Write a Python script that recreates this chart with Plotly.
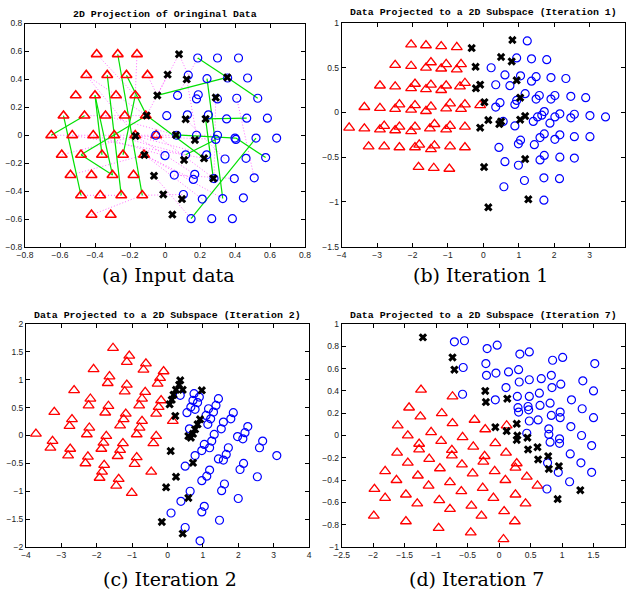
import plotly.graph_objects as go

# ---------------- (a) Input data ----------------
a_tri_x = [-0.39, -0.27, -0.16,
           -0.45, -0.33, -0.22, -0.10,
           -0.51, -0.40, -0.28, -0.17,
           -0.58, -0.46, -0.34, -0.23, -0.11,
           -0.65, -0.53, -0.41, -0.29, -0.17, -0.05,
           -0.59, -0.48, -0.36, -0.24, -0.12,
           -0.54, -0.42, -0.30, -0.18,
           -0.48, -0.37, -0.25, -0.13,
           -0.42, -0.31]
a_tri_y = [0.58, 0.58, 0.58,
           0.43, 0.43, 0.43, 0.43,
           0.285, 0.285, 0.285, 0.285,
           0.14, 0.14, 0.14, 0.14, 0.14,
           0.0, 0.0, 0.0, 0.0, 0.0, 0.0,
           -0.14, -0.14, -0.14, -0.14, -0.14,
           -0.285, -0.285, -0.285, -0.285,
           -0.43, -0.43, -0.43, -0.43,
           -0.57, -0.57]
a_circ_x = [0.187, 0.30, 0.42,
            0.133, 0.24, 0.358, 0.472,
            0.072, 0.18, 0.19, 0.30, 0.41, 0.53,
            0.01, 0.128, 0.248, 0.352, 0.467, 0.585,
            -0.053, 0.067, 0.18, 0.30, 0.29, 0.40, 0.405, 0.52, 0.638,
            0.0, 0.118, 0.238, 0.343, 0.463, 0.575,
            0.053, 0.17, 0.162, 0.28, 0.396, 0.51,
            0.105, 0.213, 0.33, 0.448,
            0.149, 0.267, 0.385]
a_circ_y = [0.553, 0.553, 0.553,
            0.43, 0.405, 0.41, 0.41,
            0.285, 0.26, 0.29, 0.26, 0.265, 0.265,
            0.14, 0.146, 0.146, 0.117, 0.122, 0.122,
            0.0, 0.0, 0.0, 0.0, -0.03, -0.02, -0.03, -0.02, -0.02,
            -0.146, -0.14, -0.14, -0.17, -0.165, -0.16,
            -0.285, -0.28, -0.316, -0.31, -0.31, -0.305,
            -0.424, -0.457, -0.453, -0.448,
            -0.597, -0.597, -0.597]
a_x_x = [0.08, 0.015, 0.124, 0.356, -0.044, 0.29, -0.105, 0.118, 0.232, -0.168,
         0.063, 0.171, -0.118, 0.109, 0.223, -0.063, 0.276, -0.01, 0.097, 0.042]
a_x_y = [0.58, 0.434, 0.40, 0.414, 0.285, 0.27, 0.141, 0.115, 0.117, -0.005,
         0.002, -0.034, -0.141, -0.177, -0.165, -0.29, -0.309, -0.424, -0.457, -0.568]

# solid green links (start / end)
a_green_x0 = [-0.65, -0.58, -0.40, -0.40, -0.33, -0.27, -0.22, -0.17, -0.48, -0.48, -0.105,
              -0.044, 0.187, 0.356, 0.24, 0.232, 0.232, 0.063, 0.405, 0.52, 0.118]
a_green_y0 = [0.0, 0.14, 0.285, 0.285, 0.43, 0.58, 0.43, 0.285, -0.14, -0.14, 0.141,
              0.285, 0.553, 0.414, 0.405, 0.117, 0.117, 0.002, -0.02, -0.02, -0.14]
a_green_x1 = [-0.46, -0.48, -0.36, -0.30, -0.25, -0.13, -0.105, -0.24, -0.105, -0.30, 0.223,
              0.356, 0.356, 0.53, 0.33, 0.276, 0.467, 0.405, 0.575, 0.149, 0.29]
a_green_y1 = [0.14, -0.43, -0.14, -0.285, -0.43, -0.43, 0.141, -0.14, 0.141, -0.285, -0.165,
              0.414, 0.414, 0.265, -0.453, -0.309, 0.122, -0.02, -0.16, -0.597, -0.03]

# dotted magenta links (start / end)
a_dot_x0 = [-0.65, -0.17, -0.168, -0.168, -0.168, -0.118, -0.118, -0.118, -0.29, -0.41,
            -0.45, -0.45, -0.39, -0.16, -0.10, 0.08, 0.08, 0.015, 0.187, 0.124,
            0.41, 0.29, -0.42, -0.48, -0.13, -0.063, -0.54, -0.59, -0.46, -0.34,
            0.118, 0.053, -0.53, -0.05]
a_dot_y0 = [0.0, 0.0, -0.005, -0.005, -0.005, -0.141, -0.141, -0.141, 0.0, 0.0,
            0.43, 0.43, 0.58, 0.58, 0.43, 0.58, 0.58, 0.434, 0.553, 0.40,
            0.265, 0.27, -0.57, -0.43, -0.43, -0.29, -0.285, -0.14, 0.14, 0.14,
            0.115, -0.285, 0.0, 0.0]
a_dot_x1 = [-0.17, 0.30, 0.29, 0.238, 0.17, 0.162, 0.213, 0.33, 0.118, 0.0,
            -0.105, -0.168, -0.17, -0.17, -0.044, -0.044, 0.133, -0.105, 0.072, 0.18,
            0.51, 0.28, -0.13, -0.25, 0.105, 0.149, -0.118, -0.168, -0.105, 0.063,
            0.343, 0.396, 0.223, 0.28]
a_dot_y1 = [0.0, 0.0, -0.03, -0.14, -0.28, -0.316, -0.457, -0.453, -0.14, -0.146,
            0.141, -0.005, 0.285, 0.285, 0.285, 0.285, 0.43, 0.141, 0.285, 0.0,
            -0.305, -0.31, -0.43, -0.43, -0.424, -0.597, -0.141, -0.005, 0.141, 0.002,
            -0.17, -0.31, -0.165, -0.31]

# ---------------- (b) Iteration 1 ----------------
b_tri_x = [-2.04, -1.62, -1.19, -0.75,
           -2.49, -2.04, -1.62, -1.48, -1.19, -1.05, -0.75, -0.63,
           -2.92, -2.49, -2.04, -1.93, -1.62, -1.48, -1.19, -1.05, -0.66, -0.52,
           -3.36, -2.92, -2.49, -2.37, -2.04, -1.93, -1.62, -1.48, -1.05, -0.94, -0.63, -0.52, -0.09,
           -3.79, -3.36, -2.92, -2.80, -2.49, -2.37, -2.04, -1.93, -1.51, -1.38, -1.05, -0.94, -0.52,
           -3.24, -2.80, -2.37, -1.93, -1.81, -1.48, -1.38, -0.94, -0.52,
           -1.83, -1.40, -0.96]
b_tri_y = [0.76, 0.75, 0.74, 0.73,
           0.53, 0.52, 0.50, 0.56, 0.49, 0.54, 0.48, 0.54,
           0.30, 0.29, 0.27, 0.32, 0.26, 0.31, 0.25, 0.30, 0.29, 0.33,
           0.06, 0.05, 0.04, 0.09, 0.03, 0.08, 0.015, 0.065, 0.045, 0.10, 0.04, 0.09, 0.08,
           -0.17, -0.18, -0.19, -0.15, -0.20, -0.16, -0.21, -0.16, -0.18, -0.13, -0.19, -0.15, -0.16,
           -0.38, -0.38, -0.39, -0.39, -0.36, -0.41, -0.37, -0.38, -0.39,
           -0.61, -0.62, -0.63]
b_circ_x = [1.24, 0.94, 1.36, 1.79, 0.22, 0.61, 1.05, 1.49, 1.36, 1.91, 2.33, 0.35, 0.75,
            1.18, 1.58, 1.49, 2.02, 1.91, 2.47, 2.89, 0.47, 0.35, 0.89, 0.94, 0.56, 0.89,
            1.41, 1.53, 1.65, 1.72, 1.88, 2.02, 2.16, 2.47, 2.57, 3.01, 3.45, 0.44, 0.99,
            1.05, 1.44, 1.60, 1.72, 2.02, 2.16, 2.57, 3.01, 0.61, 0.99, 1.60, 1.72, 2.16,
            2.57, 0.58, 1.16, 1.71, 2.15, 1.71]
b_circ_y = [0.80, 0.61, 0.60, 0.59, 0.50, 0.42, 0.41, 0.40, 0.35, 0.39, 0.38, 0.31, 0.30,
            0.21, 0.19, 0.15, 0.19, 0.15, 0.18, 0.165, 0.11, 0.06, 0.09, 0.135, -0.10, -0.15,
            -0.10, -0.05, -0.03, 0.01, -0.12, -0.05, -0.015, -0.06, -0.02, -0.035, -0.05, -0.39, -0.35,
            -0.31, -0.36, -0.28, -0.24, -0.30, -0.25, -0.27, -0.27, -0.55, -0.59, -0.53, -0.48, -0.50,
            -0.51, -0.83, -0.76, -0.73, -0.74, -0.98]
b_x_x = [0.82, -0.33, 0.50, 0.80, -0.22, 0.94, -0.09, -0.21, 1.04, 0.03,
         0.14, 1.18, 1.04, 0.45, 0.50, -0.09, 1.18, 0.02, 1.27, 0.14]
b_x_y = [0.81, 0.72, 0.62, 0.57, 0.51, 0.36, 0.31, 0.27, 0.165, 0.115,
         -0.085, -0.04, -0.08, -0.13, -0.10, -0.17, -0.52, -0.61, -0.97, -1.06]

# ---------------- (c) Iteration 2 ----------------
c_tri_x = [-1.54, -1.08, -1.15, -0.61, -0.68, -2.09, -0.11, -0.21, -0.28, -1.64,
           -1.69, -1.15, -1.21, -2.64, -0.63, -0.72, -0.80, -2.18, -2.23, -1.67,
           -1.76, -3.20, -1.18, -1.24, -1.34, -0.18, -0.25, -0.32, -0.72, -0.79,
           -0.87, -2.70, -2.77, -2.21, -2.28, -1.73, -1.81, -1.87, -3.72, -3.25,
           -3.31, -2.75, -2.81, -1.26, -1.34, -1.41, -0.32, -0.40, -0.87, -0.93,
           -2.25, -2.32, -1.79, -1.85, -1.92, -1.38, -1.45, -1.01, -0.46, 0.15]
c_tri_y = [1.57, 1.43, 1.32, 1.29, 1.18, 1.19, 1.15, 1.03, 0.93, 1.06,
           0.94, 0.91, 0.79, 0.81, 0.78, 0.66, 0.54, 0.66, 0.54, 0.53,
           0.41, 0.42, 0.39, 0.29, 0.18, 0.63, 0.51, 0.39, 0.26, 0.14,
           0.02, 0.29, 0.17, 0.14, 0.02, -0.01, -0.13, -0.24, 0.03, -0.10,
           -0.22, -0.24, -0.36, -0.14, -0.26, -0.37, -0.01, -0.14, -0.39, -0.51,
           -0.38, -0.50, -0.53, -0.65, -0.76, -0.78, -0.90, -1.03, -0.65, 0.26]
c_circ_x = [0.75, 0.72, 0.66, 0.55, 0.90, 0.85, 0.78, 0.62, 0.36, 1.44,
            1.37, 1.30, 1.22, 1.16, 1.09, 1.14, 1.86, 1.79, 1.58, 1.52,
            1.32, 1.25, 1.19, 1.04, 0.97, 0.78, 0.50, 2.27, 2.19, 2.13,
            1.98, 1.72, 1.66, 1.58, 1.44, 2.69, 2.60, 3.09, 2.15, 2.05,
            1.19, 1.11, 0.97, 1.61, 1.53, 2.54, 0.64, 0.38, 1.04, 0.97,
            2.00, 0.10, 1.47, 0.50, 0.92]
c_circ_y = [0.75, 0.63, 0.51, 0.41, 0.69, 0.59, 0.47, 0.12, 0.72, 0.66,
            0.54, 0.42, 0.30, 0.48, 0.36, 0.20, 0.41, 0.30, 0.24, 0.12,
            0.02, -0.10, -0.22, -0.16, -0.27, -0.36, -0.55, 0.16, 0.05, -0.06,
            -0.02, -0.22, -0.34, -0.44, -0.42, -0.10, -0.22, -0.36, -0.50, -0.61,
            -0.62, -0.73, -0.81, -0.87, -0.99, -0.74, -1.00, -1.18, -1.27, -1.37,
            -1.13, -1.39, -1.52, -1.65, -1.89]
c_x_x = [0.36, 0.33, 0.24, 0.17, 0.12, 0.06, 0.43, 0.97, 0.22, 0.92, 0.85,
         0.78, 0.59, 0.66, 0.72, 0.09, 0.72, 0.24, -0.04, 0.59, -0.16, 0.43]
c_x_y = [0.99, 0.91, 0.82, 0.73, 0.64, 0.56, 0.82, 0.81, 0.35, 0.29, 0.20,
         0.11, -0.01, -0.04, 0.03, -0.28, -0.49, -0.74, -0.93, -1.12, -1.55, -1.76]

# ---------------- (d) Iteration 7 ----------------
d_tri_x = [-1.24, -0.74, -1.43, -0.91, -1.25, -0.39, -1.61, -0.74, -1.08, -1.45,
           -0.58, -0.92, -1.27, -1.27, -0.41, -0.75, -0.75, -1.62, -1.11, -1.45,
           -0.59, -0.94, -1.81, -1.29, -0.42, -1.63, -0.78, -1.12, -0.60, -1.98,
           -1.48, -0.95, -1.81, -1.30, -0.44, -0.78, -1.99, -1.48, -0.96, -0.45,
           0.12, -0.22, -0.06, -0.23, -0.25, 0.11, 0.28, 0.26, -0.07, 0.10,
           0.44, 0.61, -0.26, 0.26, -0.09, 0.42, -0.28, 0.08, 0.25, 0.07]
d_tri_y = [0.41, 0.35, 0.25, 0.20, 0.17, 0.14, 0.09, 0.11, 0.03, 0.00,
           -0.015, -0.05, -0.075, -0.125, -0.10, -0.13, -0.18, -0.155, -0.21, -0.245,
           -0.26, -0.295, -0.32, -0.36, -0.34, -0.40, -0.42, -0.45, -0.50, -0.48,
           -0.53, -0.58, -0.56, -0.61, -0.63, -0.66, -0.72, -0.77, -0.83, -0.87,
           0.09, 0.055, -0.07, -0.185, -0.235, -0.155, -0.25, -0.29, -0.32, -0.40,
           -0.37, -0.45, -0.47, -0.53, -0.56, -0.61, -0.72, -0.68, -0.77, -0.93]
d_circ_x = [-0.71, -0.55, -0.19, -0.03, -0.57, -0.21, -0.20, -0.05, 0.15, 0.31,
            0.33, 0.48, 0.32, 0.48, 0.67, 0.83, 0.85, 1.01, 1.52, -0.58,
            0.11, -0.06, 0.29, 0.48, 0.64, 0.84, 0.98, 1.33, 1.50, 0.30,
            0.31, 0.46, 0.47, 0.65, 0.81, 0.83, 0.97, 0.97, 1.15, 1.32,
            1.50, 0.48, 0.62, 0.79, 0.79, 0.81, 0.96, 0.96, 1.14, 1.31,
            1.47, 0.44, 1.13, 1.30, 1.47, 0.94, 0.77, 1.12, 0.76]
d_circ_y = [0.84, 0.85, 0.78, 0.81, 0.61, 0.645, 0.54, 0.56, 0.57, 0.59,
            0.73, 0.75, 0.48, 0.50, 0.51, 0.54, 0.675, 0.70, 0.645, 0.37,
            0.43, 0.32, 0.35, 0.35, 0.38, 0.43, 0.46, 0.49, 0.40, 0.25,
            0.21, 0.26, 0.23, 0.27, 0.29, 0.18, 0.21, 0.16, 0.32, 0.24,
            0.16, 0.13, 0.14, 0.06, 0.01, -0.06, -0.03, -0.07, 0.08, 0.00,
            -0.09, 0.02, -0.165, -0.245, -0.33, -0.33, -0.245, -0.415, -0.48]
d_x_x = [-1.21, -0.74, -0.71, -0.22, -0.21, 0.13, -0.06, 0.12, 0.28, 0.29,
         0.28, 0.45, 0.46, 0.61, 0.62, 0.78, 0.79, 0.95, 1.29, 0.93]
d_x_y = [0.88, 0.70, 0.59, 0.40, 0.30, 0.33, 0.075, 0.04, 0.105, 0.00,
         -0.04, -0.02, -0.125, -0.105, -0.215, -0.185, -0.30, -0.275, -0.49, -0.57]

# ---------------- text ----------------
titles = ["2D Projection of Oringinal Data",
          "Data Projected to a 2D Subspace (Iteration 1)",
          "Data Projected to a 2D Subspace (Iteration 2)",
          "Data Projected to a 2D Subspace (Iteration 7)"]
captions = ["(a) Input data", "(b) Iteration 1", "(c) Iteration 2", "(d) Iteration 7"]

# ---------------- layout geometry ----------------
W, H = 626, 591
def px_x(v):
    return v / W
def px_y(v):
    return 1 - v / H

# pixel boxes (left, right, top, bottom)
boxes = [(25, 305, 23.5, 247), (341.7, 625, 23, 246.7), (26, 309, 324, 547), (341.7, 625, 324, 547)]
xranges = [[-0.8, 0.8], [-4, 4], [-4, 4], [-2.5, 2]]
yranges = [[-0.8, 0.8], [-1.5, 1], [-2, 2], [-1, 1]]
xdticks = [0.2, 1, 1, 0.5]
ydticks = [0.2, 0.5, 0.5, 0.2]
title_y = [15, 12.5, 315, 315]
caption_pos = [(168, 275), (480, 275), (170, 579), (476, 579)]

RED = "#ff0000"
BLUE = "#0000ff"
GREEN = "#00e000"
PINK = "#ff70ff"

fig = go.Figure()

def seg_xy(x0, y0, x1, y1):
    xs, ys = [], []
    for a, b, c, d in zip(x0, y0, x1, y1):
        xs += [a, c, None]
        ys += [b, d, None]
    return xs, ys

def add_points(k, tx, ty, cx, cy, xx, xy, tri_lw=1.3):
    xa = "x" if k == 1 else f"x{k}"
    ya = "y" if k == 1 else f"y{k}"
    fig.add_trace(go.Scatter(x=tx, y=ty, xaxis=xa, yaxis=ya, mode="markers",
                             marker=dict(symbol="triangle-up-open", size=9.5, color=RED,
                                         line=dict(color=RED, width=tri_lw)),
                             showlegend=False, hoverinfo="skip"))
    fig.add_trace(go.Scatter(x=cx, y=cy, xaxis=xa, yaxis=ya, mode="markers",
                             marker=dict(symbol="circle-open", size=8, color=BLUE,
                                         line=dict(color=BLUE, width=1.2)),
                             showlegend=False, hoverinfo="skip"))
    fig.add_trace(go.Scatter(x=xx, y=xy, xaxis=xa, yaxis=ya, mode="markers",
                             marker=dict(symbol="x", size=7.5, color="black",
                                         line=dict(width=0)),
                             showlegend=False, hoverinfo="skip"))

# panel (a) links
dx, dy = seg_xy(a_dot_x0, a_dot_y0, a_dot_x1, a_dot_y1)
fig.add_trace(go.Scatter(x=dx, y=dy, xaxis="x", yaxis="y", mode="lines",
                         line=dict(color=PINK, width=1, dash="1px,2px"),
                         showlegend=False, hoverinfo="skip"))
gx, gy = seg_xy(a_green_x0, a_green_y0, a_green_x1, a_green_y1)
fig.add_trace(go.Scatter(x=gx, y=gy, xaxis="x", yaxis="y", mode="lines",
                         line=dict(color=GREEN, width=1.2),
                         showlegend=False, hoverinfo="skip"))

add_points(1, a_tri_x, a_tri_y, a_circ_x, a_circ_y, a_x_x, a_x_y, tri_lw=1.6)
add_points(2, b_tri_x, b_tri_y, b_circ_x, b_circ_y, b_x_x, b_x_y)
add_points(3, c_tri_x, c_tri_y, c_circ_x, c_circ_y, c_x_x, c_x_y)
add_points(4, d_tri_x, d_tri_y, d_circ_x, d_circ_y, d_x_x, d_x_y)

axis_common = dict(showgrid=False, zeroline=False, showline=True, linecolor="black",
                   linewidth=1, mirror="ticks", ticks="inside", ticklen=4, tickwidth=1,
                   tickcolor="black", automargin=False,
                   tickfont=dict(family="Liberation Sans, Arial, sans-serif", size=8.5, color="#222"))

layout = dict(width=W, height=H, margin=dict(l=0, r=0, t=0, b=0),
              paper_bgcolor="white", plot_bgcolor="white", showlegend=False)
annotations = []
for i in range(4):
    k = i + 1
    l, r, t, b = boxes[i]
    xkey = "xaxis" if k == 1 else f"xaxis{k}"
    ykey = "yaxis" if k == 1 else f"yaxis{k}"
    anchor_x = "y" if k == 1 else f"y{k}"
    anchor_y = "x" if k == 1 else f"x{k}"
    layout[xkey] = dict(axis_common, domain=[px_x(l), px_x(r)], range=xranges[i],
                        dtick=xdticks[i], tick0=0, anchor=anchor_x)
    layout[ykey] = dict(axis_common, domain=[px_y(b), px_y(t)], range=yranges[i],
                        dtick=ydticks[i], tick0=0, anchor=anchor_y)
    annotations.append(dict(text="<b>" + titles[i] + "</b>", x=px_x((l + r) / 2), y=px_y(title_y[i]),
                            xref="paper", yref="paper", showarrow=False,
                            xanchor="center", yanchor="middle",
                            font=dict(family="Liberation Mono, Courier New, monospace",
                                      size=9.9, color="black")))
    cx, cy = caption_pos[i]
    annotations.append(dict(text=captions[i], x=px_x(cx), y=px_y(cy),
                            xref="paper", yref="paper", showarrow=False,
                            xanchor="center", yanchor="middle",
                            font=dict(family="DejaVu Serif, serif", size=19, color="black")))
layout["annotations"] = annotations
fig.update_layout(**layout)

fig.write_html("out.html", config={"displayModeBar": False},
               post_script="document.body.style.margin='0px';document.body.style.overflow='hidden';")
